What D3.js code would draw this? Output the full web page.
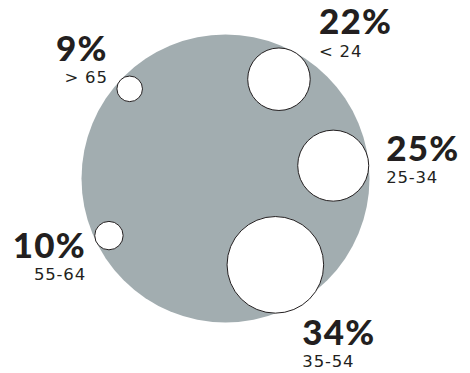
<!DOCTYPE html>
<html>
<head>
    <meta charset="utf-8">
    <script type="text/javascript" src="https://d3js.org/d3.v7.min.js"></script>
    <style>
body { margin: 0; background: #fff; }
.big { font-family: Lato, "Open Sans", sans-serif; font-weight: 900; fill: #231f20; letter-spacing: 1.2px; }
.small { font-family: "DejaVu Sans", sans-serif; font-weight: 400; fill: #231f20; letter-spacing: 0.8px; }
    </style>
</head>
<body>
    <svg width="470" height="373"></svg>

    <script type="text/javascript">

	// age groups and their share (%)
	var ages = ["> 65", "< 24", "25-34", "35-54", "55-64"];
	var shares = [9, 22, 25, 34, 10];

	// layout: where each bubble sits on the rim (degrees, screen coords) and its label offset
	var layout = [
		{ angle: -136.9, push: 0, dx: -22, dy: -28, anchor: "end" },
		{ angle: -61.7,  push: 0, dx: 40,  dy: -45, anchor: "start" },
		{ angle: -6.8,   push: 0, dx: 53,  dy: -5,  anchor: "start" },
		{ angle: 60,     push: 4, dx: 27,  dy: 80,  anchor: "start" },
		{ angle: 153.9,  push: 0, dx: -23, dy: 22,  anchor: "end" }
	];

	var svg = d3.select("svg"),
		cx = 225.5,
		cy = 178.5,
		R = 144;

	var r = d3.scaleLinear()
		.domain([0, 34])
		.range([0, 48.3]);

	var data = shares.map(function(v, i) {
		var l = layout[i],
			a = l.angle * Math.PI / 180,
			d = R - r(v) + l.push;
		return { value: v, age: ages[i], x: cx + d * Math.cos(a), y: cy + d * Math.sin(a), l: l };
	});

	svg.append("circle")
		.attr("cx", cx)
		.attr("cy", cy)
		.attr("r", R)
		.attr("fill", "#a2adb0");

	svg.selectAll(".bubble")
		.data(data)
		.enter().append("circle")
		.attr("class", "bubble")
		.attr("cx", function(d) { return d.x; })
		.attr("cy", function(d) { return d.y; })
		.attr("r", function(d) { return r(d.value); })
		.attr("fill", "#fff")
		.attr("stroke", "#231f20")
		.attr("stroke-width", 1);

	var labels = svg.selectAll(".label")
		.data(data)
		.enter().append("g")
		.attr("class", "label")
		.attr("transform", function(d) { return "translate(" + (d.x + d.l.dx) + "," + (d.y + d.l.dy) + ")"; })
		.attr("text-anchor", function(d) { return d.l.anchor; });

	labels.append("text")
		.attr("class", "big")
		.attr("font-size", 35)
		.text(function(d) { return d.value + "%"; });

	labels.append("text")
		.attr("class", "small")
		.attr("y", 22.5)
		.attr("font-size", 16.5)
		.text(function(d) { return d.age; });

	</script>
</body>
</html>
